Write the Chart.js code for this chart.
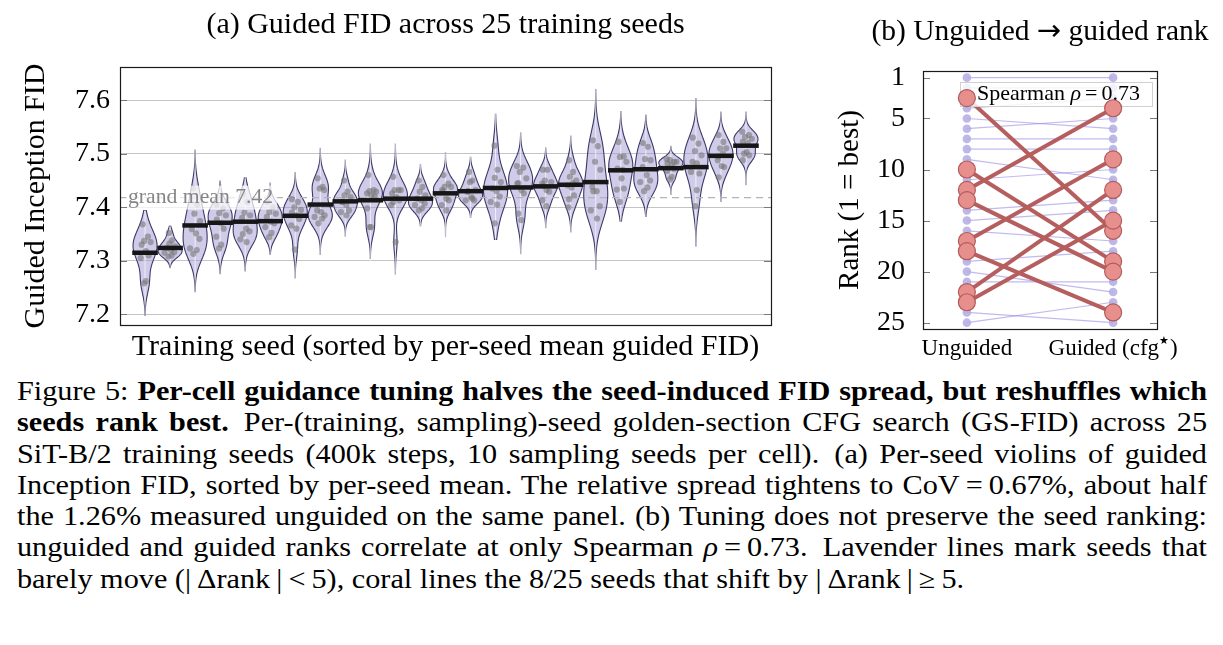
<!DOCTYPE html>
<html><head><meta charset="utf-8">
<script src="https://cdn.jsdelivr.net/npm/chart.js@4.4.0/dist/chart.umd.min.js"></script>
<style>
html,body{margin:0;padding:0;background:#fff;width:1223px;height:645px;overflow:hidden;}
#wa{position:absolute;left:0;top:0;width:800px;height:370px;}
#wb{position:absolute;left:820px;top:0;width:403px;height:370px;}
#cap{position:absolute;left:17px;top:376px;width:1190px;font-family:'Liberation Serif',serif;font-size:27px;line-height:31.3px;color:#000;}
#cap div{white-space:nowrap;transform-origin:0 0;}
#cap div span{white-space:nowrap;}
</style></head><body>
<div id="wa"><canvas id="ca" width="800" height="370"></canvas></div>
<div id="wb"><canvas id="cb" width="403" height="370"></canvas></div>
<div id="cap">
<div><span>Figure 5: <b>Per-cell guidance tuning halves the seed-induced FID spread, but reshuffles which</b></span></div>
<div><span><b>seeds rank best.</b>&ensp;Per-(training, sampling)-seed golden-section CFG search (GS-FID) across 25</span></div>
<div><span>SiT-B/2 training seeds (400k steps, 10 sampling seeds per cell).&ensp;(a) Per-seed violins of guided</span></div>
<div><span>Inception FID, sorted by per-seed mean. The relative spread tightens to CoV&thinsp;=&thinsp;0.67%, about half</span></div>
<div><span>the 1.26% measured unguided on the same panel. (b) Tuning does not preserve the seed ranking:</span></div>
<div><span>unguided and guided ranks correlate at only Spearman <i>ρ</i>&thinsp;=&thinsp;0.73.&ensp;Lavender lines mark seeds that</span></div>
<div class="last"><span>barely move (|&thinsp;Δrank&thinsp;|&thinsp;&lt;&thinsp;5), coral lines the 8/25 seeds that shift by |&thinsp;Δrank&thinsp;|&thinsp;≥&thinsp;5.</span></div>
</div>
<script>
// ---------------- DATA ----------------
const seedIndex = Array.from({length:25},(_,i)=>i+1); // sorted training seeds
const seedMeans = [7.315,7.324,7.366,7.371,7.373,7.374,7.384,7.405,7.411,7.413,7.416,7.416,7.426,7.430,7.436,7.437,7.439,7.442,7.447,7.469,7.471,7.473,7.475,7.496,7.515];
const violinLow  = [7.198,7.287,7.242,7.276,7.281,7.312,7.268,7.312,7.346,7.304,7.275,7.365,7.345,7.381,7.340,7.313,7.362,7.354,7.284,7.374,7.383,7.424,7.327,7.411,7.442];
const violinHigh = [7.394,7.365,7.507,7.449,7.455,7.445,7.465,7.510,7.488,7.518,7.518,7.480,7.502,7.494,7.574,7.539,7.511,7.533,7.620,7.579,7.572,7.514,7.603,7.578,7.578];
const seedSamples = [
 [7.368,7.345,7.337,7.335,7.330,7.318,7.310,7.305,7.262,7.258],
 [7.352,7.338,7.332,7.327,7.324,7.320,7.316,7.315,7.310,7.308],
 [7.435,7.405,7.388,7.374,7.359,7.351,7.341,7.323,7.320,7.313],
 [7.405,7.398,7.389,7.385,7.377,7.370,7.360,7.345,7.330,7.323],
 [7.425,7.410,7.390,7.385,7.380,7.360,7.355,7.340,7.335,7.350],
 [7.410,7.400,7.391,7.388,7.382,7.373,7.370,7.363,7.352,7.344],
 [7.415,7.410,7.400,7.395,7.390,7.385,7.378,7.366,7.360,7.321],
 [7.454,7.438,7.435,7.432,7.394,7.391,7.385,7.382,7.379,7.370],
 [7.450,7.429,7.422,7.419,7.410,7.404,7.394,7.391,7.385,7.410],
 [7.460,7.432,7.430,7.429,7.426,7.422,7.421,7.398,7.363,7.363],
 [7.457,7.432,7.432,7.432,7.426,7.419,7.413,7.404,7.335,7.410],
 [7.450,7.438,7.429,7.422,7.416,7.413,7.407,7.404,7.398,7.394],
 [7.460,7.444,7.438,7.438,7.432,7.416,7.413,7.404,7.394,7.430],
 [7.466,7.450,7.447,7.432,7.429,7.419,7.413,7.413,7.416,7.430],
 [7.515,7.470,7.455,7.447,7.435,7.430,7.420,7.410,7.405,7.370],
 [7.477,7.474,7.466,7.454,7.444,7.432,7.426,7.388,7.376,7.445],
 [7.470,7.470,7.450,7.447,7.444,7.432,7.429,7.413,7.402,7.440],
 [7.488,7.466,7.457,7.450,7.441,7.437,7.422,7.400,7.445,7.415],
 [7.525,7.514,7.485,7.470,7.438,7.430,7.402,7.394,7.379,7.430],
 [7.522,7.495,7.494,7.485,7.472,7.454,7.435,7.433,7.470,7.410],
 [7.520,7.513,7.490,7.488,7.475,7.460,7.450,7.447,7.437,7.430],
 [7.490,7.485,7.488,7.485,7.482,7.478,7.472,7.468,7.457,7.452],
 [7.530,7.519,7.505,7.497,7.485,7.482,7.463,7.466,7.432,7.402],
 [7.535,7.522,7.510,7.510,7.488,7.477,7.475,7.456,7.500,7.495],
 [7.541,7.535,7.531,7.528,7.522,7.503,7.497,7.488,7.520,7.500]
];
const GRAND_MEAN = 7.418;
const yTicksA = [7.2,7.3,7.4,7.5,7.6];

const unguidedRank = Array.from({length:25},(_,i)=>i+1);
const guidedRank = [1,2,16,3,6,5,7,8,11,19,10,4,20,13,14,17,9,24,18,22,21,12,15,25,23];
const rankTicks = [1,5,10,15,20,25];
const rankColumns = ['Unguided','Guided (cfg'];
const SPEARMAN = '0.73';

// ---------------- CAPTION LAYOUT (text stays real text) ----------------
(function(){
  const W=1190, S=1.12;
  document.querySelectorAll('#cap div').forEach(d=>{
    const sp=d.firstElementChild; const nat=sp.getBoundingClientRect().width;
    const last=d.classList.contains('last');
    if(last){ d.style.transform='scaleX('+S+')'; return; }
    let s=S; if(nat*S>W) s=W/nat;
    d.style.width=(W/s)+'px'; d.style.transform='scaleX('+s+')';
    d.style.textAlign='justify'; d.style.textAlignLast='justify';
    sp.style.display='inline';
  });
})();

// ---------------- STYLE ----------------
const SERIF = "'Liberation Serif', 'Times New Roman', serif";
const HALF_W = 0.48;
const JIT = [-0.55,0.35,-0.1,0.6,-0.35,0.1,0.45,-0.6,0.2,-0.25];

const violins = seedSamples.map((pts,i)=>{
  const n=pts.length, m=pts.reduce((a,b)=>a+b,0)/n;
  const sd=Math.sqrt(pts.reduce((a,b)=>a+(b-m)*(b-m),0)/(n-1));
  const bw=sd*Math.pow(n,-0.2);
  const f=y=>pts.reduce((a,p)=>a+Math.exp(-0.5*((y-p)/bw)**2),0);
  const N=90, lo=violinLow[i], hi=violinHigh[i];
  const grid=[]; let dmax=0;
  for(let k=0;k<=N;k++){const y=lo+(hi-lo)*k/N; const d=f(y); grid.push({y,d}); if(d>dmax)dmax=d;}
  grid.forEach(g=>g.w=HALF_W*g.d/dmax);
  return {grid, hw:y=>HALF_W*f(y)/dmax};
});
const dots=[];
seedSamples.forEach((pts,i)=>pts.forEach((v,k)=>dots.push({x:seedIndex[i]+JIT[k%JIT.length]*0.8*violins[i].hw(v),y:v})));

const violinPlugin = {
  id:'violins',
  beforeDatasetsDraw(chart){
    const {ctx, chartArea:ca, scales:{x,y}} = chart;
    ctx.save();
    ctx.beginPath(); ctx.rect(ca.left,ca.top,ca.width,ca.height); ctx.clip();
    violins.forEach((v,i)=>{
      const cx=seedIndex[i];
      ctx.beginPath();
      v.grid.forEach((p,k)=>{const px=x.getPixelForValue(cx+p.w),py=y.getPixelForValue(p.y); k?ctx.lineTo(px,py):ctx.moveTo(px,py);});
      for(let k=v.grid.length-1;k>=0;k--){const p=v.grid[k]; ctx.lineTo(x.getPixelForValue(cx-p.w),y.getPixelForValue(p.y));}
      ctx.closePath();
      ctx.fillStyle='rgba(160,152,212,0.5)'; ctx.fill();
      ctx.lineWidth=1.1; ctx.strokeStyle='#3b3968'; ctx.stroke();
      const xc=x.getPixelForValue(cx);
      ctx.beginPath(); ctx.moveTo(xc,y.getPixelForValue(violinLow[i])+3); ctx.lineTo(xc,y.getPixelForValue(violinHigh[i])-3);
      ctx.strokeStyle='rgba(255,255,255,0.85)'; ctx.lineWidth=0.8; ctx.stroke();
    });
    ctx.restore();
  },
  afterDatasetsDraw(chart){
    const {ctx, chartArea:ca, scales:{y}} = chart;
    ctx.save();
    const gy=y.getPixelForValue(GRAND_MEAN);
    const txt='grand mean '+GRAND_MEAN.toFixed(2);
    ctx.font='21.7px '+SERIF;
    const w=ctx.measureText(txt).width;
    ctx.fillStyle='rgba(255,255,255,0.72)';
    ctx.fillRect(ca.left+6,gy-12,w+6,24);
    ctx.fillStyle='#858585'; ctx.textBaseline='middle'; ctx.textAlign='left';
    ctx.fillText(txt,ca.left+8,gy);
    ctx.strokeStyle='#7a7a7a'; ctx.lineWidth=1;
    yTicksA.forEach(t=>{const py=Math.round(y.getPixelForValue(t))+0.5;
      ctx.beginPath(); ctx.moveTo(ca.left,py); ctx.lineTo(ca.left+7,py); ctx.moveTo(ca.right,py); ctx.lineTo(ca.right-7,py); ctx.stroke();});
    ctx.strokeStyle='#1a1a1a'; ctx.lineWidth=1.2;
    ctx.strokeRect(Math.round(ca.left)+0.5,Math.round(ca.top)+0.5,Math.round(ca.width),Math.round(ca.height));
    // y-axis title (drawn here so it is not squeezed to the plot height)
    ctx.translate(36,(ca.top+ca.bottom)/2); ctx.rotate(-Math.PI/2);
    ctx.fillStyle='#000'; ctx.font='30px '+SERIF; ctx.textAlign='center'; ctx.textBaseline='middle';
    ctx.fillText('Guided Inception FID',0,0);
    ctx.restore();
  }
};

new Chart(document.getElementById('ca'),{
  type:'scatter',
  data:{datasets:[
    {label:'grand mean',type:'line',data:[{x:0,y:GRAND_MEAN},{x:26,y:GRAND_MEAN}],borderColor:'#b3b3b3',borderDash:[7,5],borderWidth:1.4,pointRadius:0,order:5},
    {label:'sampling seeds',data:dots,pointRadius:3.1,backgroundColor:'rgba(120,120,120,0.6)',borderWidth:0,order:2},
    {label:'per-seed mean',data:seedMeans.map((m,i)=>({x:seedIndex[i],y:m})),pointStyle:'line',pointRadius:12.8,borderWidth:4.5,borderColor:'#161616',backgroundColor:'#161616',order:1}
  ]},
  options:{
    responsive:false,animation:false,devicePixelRatio:1,events:[],
    layout:{padding:{left:0,right:29,top:0,bottom:0}},
    plugins:{legend:{display:false},tooltip:{enabled:false},
      title:{display:true,fullSize:false,text:'(a) Guided FID across 25 training seeds',color:'#000',font:{family:SERIF,size:30,weight:'normal'},padding:{top:7,bottom:24}}},
    scales:{
      x:{type:'linear',min:0,max:26,ticks:{display:false},grid:{display:false},border:{display:false},
        title:{display:true,text:'Training seed (sorted by per-seed mean guided FID)',color:'#000',font:{family:SERIF,size:30},padding:{top:0,bottom:5}},
        afterFit(s){s.height=45;}},
      y:{type:'linear',min:7.18,max:7.662,
        afterBuildTicks(s){s.ticks=yTicksA.map(v=>({value:v}));},
        ticks:{color:'#000',font:{family:SERIF,size:28},padding:10,callback:v=>v.toFixed(1)},
        grid:{color:'#c4c4c4',lineWidth:1,drawTicks:false},border:{display:false},
        title:{display:false},
        afterFit(s){s.width=120;}}
    }
  },
  plugins:[violinPlugin]
});

// ---------------- PANEL B ----------------
const isCoral = unguidedRank.map((r,i)=>Math.abs(guidedRank[i]-r)>=5);
const dsB=[];
unguidedRank.forEach((r,i)=>{
  dsB.push({type:'line',label:'seed '+r,data:[{x:0,y:r},{x:1,y:guidedRank[i]}],
    borderColor:isCoral[i]?'#b65e5e':'rgba(150,140,228,0.6)',borderWidth:isCoral[i]?4:1.2,pointRadius:0,order:isCoral[i]?20:30});
});
const allDots=[]; unguidedRank.forEach((r,i)=>{allDots.push({x:0,y:r}); allDots.push({x:1,y:guidedRank[i]});});
dsB.push({type:'scatter',label:'ranks',data:allDots,pointRadius:4.3,backgroundColor:'rgba(178,172,228,0.85)',borderWidth:0,order:10});
const coralPts=[]; unguidedRank.forEach((r,i)=>{if(isCoral[i]){coralPts.push({x:0,y:r}); coralPts.push({x:1,y:guidedRank[i]});}});
const CORAL_IDX=dsB.length;
dsB.push({type:'scatter',label:'moved',data:coralPts,pointRadius:8.5,backgroundColor:'#e68f8d',borderColor:'#b45a5a',borderWidth:1.2,order:1});

const panelBPlugin={
  id:'panelB',
  beforeDatasetDraw(chart,args){
    if(args.index!==CORAL_IDX) return;
    const {ctx,chartArea:ca}=chart;
    ctx.save();
    const l=ca.left+37, r=ca.right-5, t=ca.top+11, h=24;
    ctx.fillStyle='rgba(255,255,255,0.82)'; ctx.fillRect(l,t,r-l,h);
    ctx.strokeStyle='#d0d0d0'; ctx.lineWidth=1; ctx.strokeRect(l+0.5,t+0.5,r-l,h);
    ctx.fillStyle='#000'; ctx.textBaseline='middle'; ctx.textAlign='left';
    let x=l+17; const ym=t+h/2;
    ctx.font='22px '+SERIF; ctx.fillText('Spearman ',x,ym); x+=ctx.measureText('Spearman ').width;
    ctx.font='italic 22px '+SERIF; ctx.fillText('\u03C1',x,ym); x+=ctx.measureText('\u03C1').width+4;
    ctx.font='22px '+SERIF; ctx.fillText('=',x,ym); x+=ctx.measureText('=').width+4;
    ctx.fillText(SPEARMAN,x,ym);
    ctx.restore();
  },
  afterDatasetsDraw(chart){
    const {ctx,chartArea:ca,scales:{x,y}}=chart;
    ctx.save();
    ctx.strokeStyle='#7a7a7a'; ctx.lineWidth=1;
    rankTicks.forEach(t=>{const py=Math.round(y.getPixelForValue(t))+0.5;
      ctx.beginPath(); ctx.moveTo(ca.left,py); ctx.lineTo(ca.left+7,py); ctx.moveTo(ca.right,py); ctx.lineTo(ca.right-7,py); ctx.stroke();});
    ctx.strokeStyle='#1a1a1a'; ctx.lineWidth=1.2;
    ctx.strokeRect(Math.round(ca.left)+0.5,Math.round(ca.top)+0.5,Math.round(ca.width),Math.round(ca.height));
    // title with a wide arrow
    ctx.fillStyle='#000'; ctx.textBaseline='middle'; ctx.textAlign='left';
    const p1='(b) Unguided ', arr='\u2192', p2=' guided rank';
    ctx.font='29.5px '+SERIF; const w1=ctx.measureText(p1).width, w3=ctx.measureText(p2).width;
    ctx.font="29px 'DejaVu Sans'"; const w2=ctx.measureText(arr).width;
    let tx=(ca.left+ca.right)/2-(w1+w2+w3)/2;
    ctx.font='29.5px '+SERIF; ctx.fillText(p1,tx,32); tx+=w1;
    ctx.font="29px 'DejaVu Sans'"; ctx.fillText(arr,tx,32); tx+=w2;
    ctx.font='29.5px '+SERIF; ctx.fillText(p2,tx,32);
    // x labels (guided one gets a superscript star)
    ctx.font='23px '+SERIF;
    const ly=ca.bottom+20;
    const x0=x.getPixelForValue(0), x1=x.getPixelForValue(1);
    ctx.textAlign='center'; ctx.fillText(rankColumns[0],x0,ly);
    const gtxt=rankColumns[1], star='\u2605', close=')';
    const gw=ctx.measureText(gtxt).width, cw=ctx.measureText(close).width;
    ctx.font="11px 'DejaVu Sans'"; const sw=ctx.measureText(star).width+1;
    let gx=x1-(gw+sw+cw)/2; ctx.textAlign='left';
    ctx.font='23px '+SERIF; ctx.fillText(gtxt,gx,ly); gx+=gw;
    ctx.font="11px 'DejaVu Sans'"; ctx.fillText(star,gx,ly-8); gx+=sw;
    ctx.font='23px '+SERIF; ctx.fillText(close,gx,ly);
    ctx.restore();
  }
};

new Chart(document.getElementById('cb'),{
  type:'scatter',
  data:{datasets:dsB},
  options:{
    responsive:false,animation:false,devicePixelRatio:1,events:[],
    layout:{padding:{left:0,right:66,top:71,bottom:0}},
    plugins:{legend:{display:false},tooltip:{enabled:false}},
    scales:{
      x:{type:'linear',min:-0.3,max:1.3,
        afterBuildTicks(s){s.ticks=[{value:0},{value:1}];},
        ticks:{display:false},
        grid:{display:false,drawTicks:false},border:{display:false},
        afterFit(s){s.height=41;}},
      y:{type:'linear',reverse:true,min:0.35,max:25.62,
        afterBuildTicks(s){s.ticks=rankTicks.map(v=>({value:v}));},
        ticks:{color:'#000',font:{family:SERIF,size:28},padding:18},
        grid:{display:false,drawTicks:false},border:{display:false},
        title:{display:true,text:'Rank (1 = best)',color:'#000',font:{family:SERIF,size:29},padding:{top:12.6,bottom:0}},
        afterFit(s){s.width=103;}}
    }
  },
  plugins:[panelBPlugin]
});
</script>
</body></html>
